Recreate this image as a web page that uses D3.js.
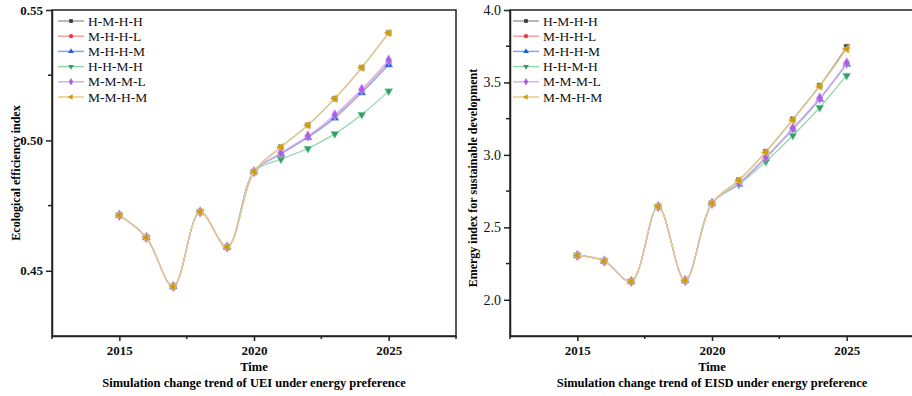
<!DOCTYPE html>
<html>
<head>
<meta charset="utf-8">
<script src="https://cdn.jsdelivr.net/npm/d3@7"></script>
<style>
  body { margin: 0; background: #fff; }
  svg { display: block; }
</style>
</head>
<body>
<div id="chart"></div>
<script>
const FONT = "'Liberation Serif', 'Times New Roman', serif";

// shared x values
const years = [2015, 2016, 2017, 2018, 2019, 2020, 2021, 2022, 2023, 2024, 2025];
const scenarios = ["H-M-H-H", "M-H-H-L", "M-H-H-M", "H-H-M-H", "M-M-M-L", "M-M-H-M"];

// UEI (ecological efficiency index), history 2015-2020 then simulation 2021-2025
const ueiHistory = [0.4713, 0.4628, 0.4440, 0.4726, 0.4591, 0.4880];
const ueiHMHH = [0.4974, 0.5058, 0.5160, 0.5279, 0.5412];
const ueiMHHL = [0.4950, 0.5014, 0.5092, 0.5190, 0.5300];
const ueiMHHM = [0.4948, 0.5011, 0.5086, 0.5183, 0.5290];
const ueiHHMH = [0.4928, 0.4969, 0.5025, 0.5099, 0.5189];
const ueiMMML = [0.4952, 0.5017, 0.5098, 0.5196, 0.5308];
const ueiMMHM = [0.4974, 0.5058, 0.5160, 0.5279, 0.5412];

// EISD (emergy index for sustainable development)
const eisdHistory = [2.306, 2.267, 2.127, 2.643, 2.133, 2.666];
const eisdHMHH = [2.826, 3.022, 3.245, 3.478, 3.746];
const eisdMHHL = [2.805, 2.984, 3.182, 3.390, 3.632];
const eisdMHHM = [2.798, 2.978, 3.176, 3.384, 3.626];
const eisdHHMH = [2.795, 2.954, 3.134, 3.327, 3.548];
const eisdMMML = [2.806, 2.986, 3.184, 3.392, 3.634];
const eisdMMHM = [2.824, 3.018, 3.240, 3.472, 3.730];

const ueiTicks = [0.45, 0.50, 0.55];
const eisdTicks = [2.0, 2.5, 3.0, 3.5, 4.0];
const xTicks = [2015, 2020, 2025];

const lineColors = ["#a0a0a0", "#f5a0a0", "#86a3f0", "#8fd6ab", "#d6aff2", "#ebcb80"];
const markColors = ["#3a3a3a", "#f0363c", "#1f5fd8", "#2ea062", "#a95fe3", "#cf9a08"];
const symbols = [
  d3.symbolSquare, d3.symbolCircle, d3.symbolTriangle,
  "down", d3.symbolDiamond, "left"
];

const svg = d3.select("#chart").append("svg")
  .attr("width", 912).attr("height", 396)
  .attr("font-family", FONT);

function markerPath(i) {
  let s = symbols[i];
  if (s === "down" || s === "left") return d3.symbol(d3.symbolTriangle, 28)();
  if (s === d3.symbolDiamond) return d3.symbol(d3.symbolDiamond, 34)();
  return d3.symbol(s, 28)();
}
function markerRotate(i) {
  if (symbols[i] === "down") return " rotate(180)";
  if (symbols[i] === "left") return " rotate(-90)";
  return "";
}

function drawPanel(opt) {
  let x = d3.scaleLinear().domain([2012.5, 2027.5]).range([opt.left, opt.left + 404]);
  let y = d3.scaleLinear().domain(opt.yDomain).range([336, 10]);
  let g = svg.append("g");

  let clipId = "clip" + opt.id;
  svg.append("clipPath").attr("id", clipId).append("rect")
    .attr("x", opt.left).attr("y", 10).attr("width", 404).attr("height", 326);

  // frame
  g.append("rect")
    .attr("x", opt.left).attr("y", 10).attr("width", 404).attr("height", 326)
    .attr("fill", "none").attr("stroke", "#222").attr("stroke-width", 1.5);

  // x axis
  let axisX = d3.axisBottom(x).tickValues(xTicks).tickFormat(d3.format("d"))
    .tickSize(5).tickSizeOuter(0);
  g.append("g")
    .attr("transform", "translate(0,336)")
    .call(axisX)
    .call(a => {
      a.select(".domain").attr("stroke", "#222").attr("stroke-width", 1.5);
      a.selectAll(".tick line").attr("stroke", "#222").attr("stroke-width", 1.5);
      a.selectAll("text").attr("font-family", FONT).attr("font-size", "13px")
        .attr("font-weight", "bold").attr("fill", "#111").attr("y", 10);
    });
  g.append("g").selectAll("line")
    .data([2012.5, 2017.5, 2022.5, 2027.5]).enter().append("line")
    .attr("x1", d => x(d)).attr("x2", d => x(d))
    .attr("y1", 336).attr("y2", 339)
    .attr("stroke", "#222").attr("stroke-width", 1.5);

  // y axis
  let axisY = d3.axisLeft(y).tickValues(opt.yTicks).tickFormat(d3.format(opt.fmt))
    .tickSize(6).tickSizeOuter(0);
  g.append("g")
    .attr("transform", "translate(" + opt.left + ",0)")
    .call(axisY)
    .call(a => {
      a.select(".domain").attr("stroke", "#222").attr("stroke-width", 1.5);
      a.selectAll(".tick line").attr("stroke", "#222").attr("stroke-width", 1.5);
      a.selectAll("text").attr("font-family", FONT).attr("font-size", opt.yFontSize)
        .attr("font-weight", opt.yBold ? "bold" : "normal").attr("fill", "#111").attr("x", -9);
    });
  g.append("g").selectAll("line")
    .data(opt.yMinor).enter().append("line")
    .attr("x1", opt.left - 4).attr("x2", opt.left)
    .attr("y1", d => y(d)).attr("y2", d => y(d))
    .attr("stroke", "#222").attr("stroke-width", 1.5);

  // titles
  g.append("text")
    .attr("x", x(2020)).attr("y", 371)
    .attr("text-anchor", "middle").attr("font-size", "12.5px").attr("font-weight", "bold")
    .text("Time");
  g.append("text")
    .attr("x", x(2020)).attr("y", 387)
    .attr("text-anchor", "middle").attr("font-size", "12.5px").attr("font-weight", "bold")
    .text(opt.subtitle);
  g.append("text")
    .attr("transform", "translate(" + opt.titleX + "," + y(opt.titleMid) + ") rotate(-90)")
    .attr("text-anchor", "middle").attr("font-size", "12px").attr("font-weight", "bold")
    .text(opt.yTitle);

  // series
  let lineGen = d3.line()
    .x((d, i) => x(years[i]))
    .y(d => y(d))
    .curve(d3.curveCatmullRom.alpha(0.5));
  let layer = g.append("g").attr("clip-path", "url(#" + clipId + ")");
  opt.series.forEach((vals, i) => {
    let data = opt.history.concat(vals);
    let sg = layer.append("g");
    sg.append("path")
      .attr("d", lineGen(data))
      .attr("fill", "none")
      .attr("stroke", lineColors[i])
      .attr("stroke-width", 1.2);
    sg.selectAll("path.mk").data(data).enter().append("path")
      .attr("class", "mk")
      .attr("d", markerPath(i))
      .attr("transform", (d, j) => "translate(" + x(years[j]) + "," + y(d) + ")" + markerRotate(i))
      .attr("fill", markColors[i])
      .attr("stroke", lineColors[i])
      .attr("stroke-width", 0.6);
  });

  // legend
  let lg = g.append("g");
  scenarios.forEach((name, i) => {
    let ly = 21 + i * 15.2;
    lg.append("line")
      .attr("x1", opt.legendX).attr("x2", opt.legendX + 26)
      .attr("y1", ly).attr("y2", ly)
      .attr("stroke", lineColors[i]).attr("stroke-width", 1.5);
    lg.append("path")
      .attr("d", markerPath(i))
      .attr("transform", "translate(" + (opt.legendX + 13) + "," + ly + ") scale(0.7)" + markerRotate(i))
      .attr("fill", markColors[i]);
    lg.append("text")
      .attr("x", opt.legendX + 30).attr("y", ly + 4.5)
      .attr("font-size", "13.5px").attr("fill", "#111")
      .text(name);
  });
}

drawPanel({
  id: "uei", left: 52,
  yDomain: [0.425, 0.55], yTicks: ueiTicks, yMinor: [0.475, 0.525], fmt: ".2f",
  yFontSize: "13px", yBold: true,
  history: ueiHistory,
  series: [ueiHMHH, ueiMHHL, ueiMHHM, ueiHHMH, ueiMMML, ueiMMHM],
  subtitle: "Simulation change trend of UEI under energy preference",
  yTitle: "Ecological efficiency index", titleX: 20, titleMid: 0.4875,
  legendX: 58
});

drawPanel({
  id: "eisd", left: 510,
  yDomain: [1.75, 4.0], yTicks: eisdTicks, yMinor: [2.25, 2.75, 3.25, 3.75], fmt: ".1f",
  yFontSize: "14px", yBold: false,
  history: eisdHistory,
  series: [eisdHMHH, eisdMHHL, eisdMHHM, eisdHHMH, eisdMMML, eisdMMHM],
  subtitle: "Simulation change trend of EISD under energy preference",
  yTitle: "Emergy index for sustainable development", titleX: 477, titleMid: 2.84,
  legendX: 513
});
</script>
</body>
</html>
